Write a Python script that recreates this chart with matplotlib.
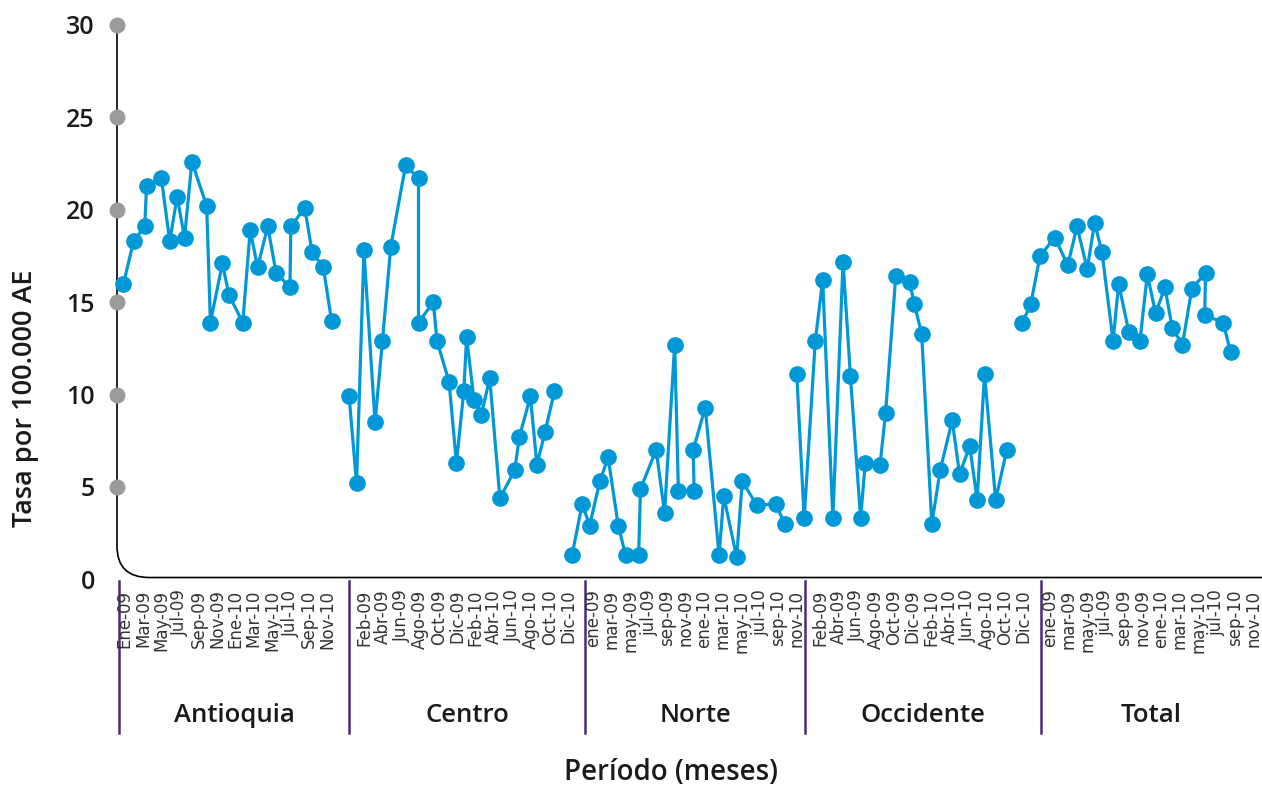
import matplotlib
matplotlib.use("Agg")
import matplotlib.pyplot as plt
from matplotlib.path import Path
from matplotlib.patches import PathPatch

# Datos: posicion en el eje (meses) y tasa por 100.000 AE, por region
x_antioquia = [0.7, 1.8, 3.0, 3.2, 4.8, 5.7, 6.5, 7.3, 8.1, 9.7, 10.1, 11.4,
               12.1, 13.6, 14.4, 15.2, 16.3, 17.2, 18.7, 18.8, 20.3, 21.1, 22.3, 23.2]
y_antioquia = [16.0, 18.3, 19.1, 21.3, 21.7, 18.3, 20.7, 18.5, 22.6, 20.2, 13.9, 17.1,
               15.4, 13.9, 18.9, 16.9, 19.1, 16.6, 15.8, 19.1, 20.1, 17.7, 16.9, 14.0]

x_centro = [25.1, 25.9, 26.7, 27.9, 28.7, 29.6, 31.2, 32.6, 32.6, 34.2, 34.6, 35.9, 36.7,
            37.5, 37.8, 38.6, 39.4, 40.3, 41.4, 43.0, 43.5, 44.7, 45.4, 46.3, 47.3]
y_centro = [9.9, 5.2, 17.8, 8.5, 12.9, 18.0, 22.4, 21.7, 13.9, 15.0, 12.9, 10.7, 6.3,
            10.2, 13.1, 9.7, 8.9, 10.9, 4.4, 5.9, 7.7, 9.9, 6.2, 8.0, 10.2]

x_norte = [49.2, 50.3, 51.1, 52.2, 53.1, 54.2, 55.0, 56.4, 56.6, 58.3, 59.2, 60.3,
           60.7, 62.4, 62.3, 63.6, 65.1, 65.6, 67.0, 67.6, 69.2, 71.2, 72.2]
y_norte = [1.3, 4.1, 2.9, 5.3, 6.6, 2.9, 1.3, 1.3, 4.9, 7.0, 3.6, 12.7,
           4.8, 4.8, 7.0, 9.3, 1.3, 4.5, 1.2, 5.3, 4.0, 4.1, 3.0]

x_occidente = [73.5, 74.3, 75.5, 76.3, 77.4, 78.5, 79.3, 80.4, 80.9, 82.5, 83.1, 84.2,
               85.7, 86.2, 87.0, 88.1, 89.0, 90.3, 91.1, 92.2, 93.0, 93.8, 95.0, 96.2]
y_occidente = [11.1, 3.3, 12.9, 16.2, 3.3, 17.2, 11.0, 3.3, 6.3, 6.2, 9.0, 16.4,
               16.1, 14.9, 13.3, 3.0, 5.9, 8.6, 5.7, 7.2, 4.3, 11.1, 4.3, 7.0]

x_total = [97.9, 98.8, 99.8, 101.4, 102.8, 103.8, 104.9, 105.7, 106.5, 107.7, 108.3, 109.4,
           110.6, 111.4, 112.3, 113.3, 114.1, 115.2, 116.2, 117.7, 117.6, 119.6, 120.4]
y_total = [13.9, 14.9, 17.5, 18.5, 17.0, 19.1, 16.8, 19.3, 17.7, 12.9, 16.0, 13.4,
           12.9, 16.5, 14.4, 15.8, 13.6, 12.7, 15.7, 16.6, 14.3, 13.9, 12.3]

regiones = ["Antioquia", "Centro", "Norte", "Occidente", "Total"]
meses_a = ["Ene-09", "Mar-09", "May-09", "Jul-09", "Sep-09", "Nov-09",
           "Ene-10", "Mar-10", "May-10", "Jul-10", "Sep-10", "Nov-10"]
meses_b = ["Feb-09", "Abr-09", "Jun-09", "Ago-09", "Oct-09", "Dic-09",
           "Feb-10", "Abr-10", "Jun-10", "Ago-10", "Oct-10", "Dic-10"]
meses_c = ["ene-09", "mar-09", "may-09", "jul-09", "sep-09", "nov-09",
           "ene-10", "mar-10", "may-10", "jul-10", "sep-10", "nov-10"]
etiquetas = [meses_a, meses_b, meses_c, meses_b, meses_c]
inicio_etiquetas = [0.8, 26.8, 51.5, 76.0, 100.9]
separadores = [0.2, 25.1, 50.6, 74.4, 99.9]
y_ticks = [0, 5, 10, 15, 20, 25, 30]

azul = "#0098D6"
morado = "#4B2A7B"
negro = "#1a1a1a"
fuente = ["Open Sans", "DejaVu Sans"]
xmax = 123.8

fig = plt.figure(figsize=(12.62, 7.86), dpi=100)
ax = fig.add_axes([0.0927, 0.2629, 0.9073, 0.7053])
ax.set_xlim(0, xmax)
ax.set_ylim(0, 30)

for xs, ys in [(x_antioquia, y_antioquia), (x_centro, y_centro), (x_norte, y_norte),
               (x_occidente, y_occidente), (x_total, y_total)]:
    ax.plot(xs, ys, color=azul, lw=2.3, marker="o", ms=11, mec=azul, mfc=azul,
            clip_on=False, zorder=3)

# eje con esquina redondeada
for s in ax.spines.values():
    s.set_visible(False)
verts = [(0, 30), (0, 1.8), (0, 0.1), (3.5, 0.1), (xmax, 0.1)]
codes = [Path.MOVETO, Path.LINETO, Path.CURVE3, Path.CURVE3, Path.LINETO]
ax.add_patch(PathPatch(Path(verts, codes), fc="none", ec="black", lw=1.2,
                       clip_on=False, zorder=2))
ax.scatter([0] * 6, y_ticks[1:], s=110, color="#9B9B9B", clip_on=False, zorder=4)

ax.set_xticks([])
ax.set_yticks(y_ticks)
ax.tick_params(axis="y", length=0, pad=16)
for t in ax.get_yticklabels():
    t.set_fontfamily(fuente)
    t.set_fontweight("semibold")
    t.set_fontsize(18)
    t.set_color(negro)

fig.text(25 / 1262, 1 - 398 / 786, "Tasa por 100.000 AE", rotation=90, ha="center",
         va="center", fontsize=19.5, family=fuente, weight="semibold", color=negro)

# separadores, meses y nombres de region
bordes = separadores + [xmax]
for i, reg in enumerate(regiones):
    ax.plot([separadores[i], separadores[i]], [-0.1, -8.3], color=morado, lw=1.8,
            clip_on=False)
    for j, lab in enumerate(etiquetas[i]):
        ax.text(inicio_etiquetas[i] + 2.0 * j, -0.55, lab, rotation=90, ha="center",
                va="top", fontsize=12, color="#333333")
    ax.text((bordes[i] + bordes[i + 1]) / 2, -7.35, reg, ha="center", va="center",
            fontsize=18.5, family=fuente, weight="semibold", color=negro)

fig.text(0.532, 1 - 773 / 786, "Período (meses)", ha="center", va="center", fontsize=20,
         family=fuente, weight="semibold", color=negro)

fig.savefig("out.png", dpi=100)
